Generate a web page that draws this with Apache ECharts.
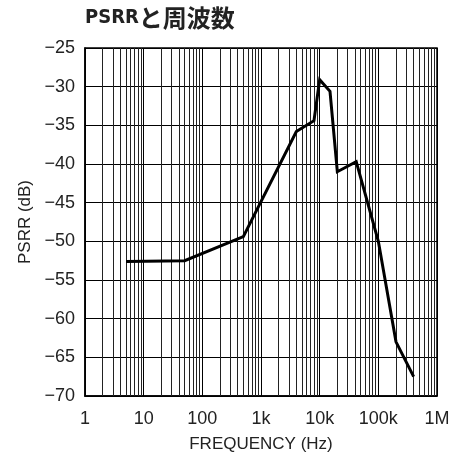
<!DOCTYPE html>
<html>
<head>
<meta charset="utf-8">
<script src="https://cdn.jsdelivr.net/npm/echarts@6/dist/echarts.min.js"></script>
<style>
  html, body { margin: 0; padding: 0; background: #fff; overflow: hidden; }
  #chart { width: 463px; height: 458px; }
</style>
</head>
<body>
<div id="chart"></div>
<script>
// PSRR versus frequency (log frequency axis)
const frequencyHz = [5, 50, 500, 4000, 8000, 10000, 15000, 20000, 42000, 100000, 200000, 400000];
const psrrDb = [-52.6, -52.5, -49.4, -35.8, -34.4, -29.1, -30.6, -41.0, -39.7, -50.0, -63.0, -67.5];
const xTickLabels = ['1', '10', '100', '1k', '10k', '100k', '1M'];
const yTicks = [-70, -65, -60, -55, -50, -45, -40, -35, -30, -25];

// minor vertical grid lines at 2..9 of each decade
const minorGrid = [];
for (let d = 1; d < 1e6; d *= 10) {
  for (let m = 2; m <= 9; m++) minorGrid.push({ xAxis: d * m });
}

const chart = echarts.init(document.getElementById('chart'), null, { renderer: 'canvas' });
const textFont = 'Liberation Sans, Arial, sans-serif';
const titleLatin = 'DejaVu Sans Condensed, Liberation Sans Narrow, sans-serif';

chart.setOption({
  animation: false,
  backgroundColor: '#fff',
  title: {
    text: '{a|PSRR}{b|と周波数}',
    left: 85,
    top: 6,
    padding: 0,
    textStyle: {
      rich: {
        a: { fontFamily: titleLatin, fontWeight: 'bold', fontSize: 20, color: '#222' },
        b: { fontFamily: 'Noto Sans CJK JP', fontWeight: 'bold', fontSize: 24, color: '#222' }
      }
    }
  },
  grid: {
    left: 85, right: 26, top: 48, bottom: 58,
    show: true, borderColor: '#000', borderWidth: 1.5,
    containLabel: false
  },
  xAxis: {
    type: 'log',
    logBase: 10,
    min: 1,
    max: 1e6,
    name: 'FREQUENCY (Hz)',
    nameLocation: 'middle',
    nameGap: 40,
    nameTextStyle: { fontFamily: textFont, fontSize: 17, color: '#222' },
    axisLine: { show: true, lineStyle: { color: '#000', width: 1.5 } },
    axisTick: { show: false },
    axisLabel: {
      margin: 14,
      fontFamily: textFont, fontSize: 18, color: '#222',
      formatter: v => xTickLabels[Math.round(Math.log10(v))]
    },
    splitLine: { show: true, lineStyle: { color: '#000', width: 1 } },
    minorTick: { show: false },
    minorSplitLine: { show: false }
  },
  yAxis: {
    type: 'value',
    min: yTicks[0],
    max: yTicks[yTicks.length - 1],
    interval: 5,
    name: 'PSRR (dB)',
    nameLocation: 'middle',
    nameGap: 51,
    nameTextStyle: { fontFamily: textFont, fontSize: 17, color: '#222' },
    axisLine: { show: true, lineStyle: { color: '#000', width: 1.5 } },
    axisTick: { show: false },
    axisLabel: {
      margin: 10,
      fontFamily: textFont, fontSize: 18, color: '#222',
      formatter: v => String(v).replace('-', '\u2212')
    },
    splitLine: { show: true, lineStyle: { color: '#000', width: 1 } }
  },
  series: [
    {
      type: 'line',
      data: [],
      z: 1,
      silent: true,
      markLine: {
        z: 1,
        silent: true,
        symbol: ['none', 'none'],
        label: { show: false },
        lineStyle: { color: '#222', width: 1, type: 'solid' },
        emphasis: { disabled: true },
        data: minorGrid
      }
    },
    {
      type: 'line',
      z: 5,
      data: frequencyHz.map((f, i) => [f, psrrDb[i]]),
      showSymbol: false,
      symbol: 'none',
      lineStyle: { color: '#000', width: 3, join: 'miter' },
      smooth: false
    }
  ]
});
</script>
</body>
</html>
